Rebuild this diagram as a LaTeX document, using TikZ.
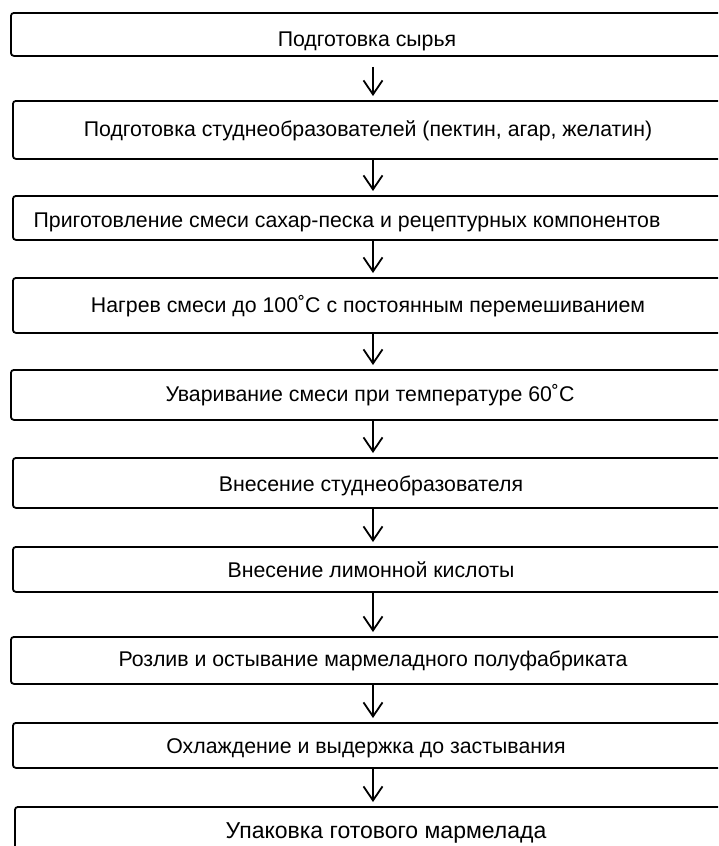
\documentclass[tikz,border=0pt]{standalone}
\usepackage{fontspec}
\setmainfont{Liberation Sans}
\usetikzlibrary{arrows.meta}
\begin{document}
\begin{tikzpicture}[x=1pt,y=-1pt,
  box/.style={draw=black, line width=1.8pt, rounded corners=3pt, inner sep=0pt, anchor=north west},
  lbl/.style={font=\fontsize{21.3}{24}\selectfont, inner sep=0pt, anchor=base},
  flow/.style={line width=1.8pt, -{Straight Barb[length=14pt,width=19pt,line width=1.8pt]}}]
\useasboundingbox (0,0) rectangle (718,846);
\clip (0,0) rectangle (718,846);
\coordinate (ax) at (373,0);
% boxes
\node[box, minimum width=730pt, minimum height=43pt] (b1) at (10,12) {};
\node[box, minimum width=728pt, minimum height=58pt] (b2) at (12,100) {};
\node[box, minimum width=728pt, minimum height=44pt] (b3) at (12,195) {};
\node[box, minimum width=728pt, minimum height=55pt] (b4) at (12,277) {};
\node[box, minimum width=730pt, minimum height=50pt] (b5) at (10,369) {};
\node[box, minimum width=728pt, minimum height=50pt] (b6) at (12,457) {};
\node[box, minimum width=728pt, minimum height=45pt] (b7) at (12,546) {};
\node[box, minimum width=730pt, minimum height=47pt] (b8) at (10,636) {};
\node[box, minimum width=728pt, minimum height=45pt] (b9) at (12,722) {};
\node[box, minimum width=726pt, minimum height=64pt] (b10) at (14,806) {};
% labels
\node[lbl] (t1) at (367,46) {Подготовка сырья};
\node[lbl] (t2) at (368,136) {Подготовка студнеобразователей (пектин, агар, желатин)};
\node[lbl] (t3) at (347,227) {Приготовление смеси сахар-песка и рецептурных компонентов};
\node[lbl] (t4) at (368,312) {Нагрев смеси до 100˚С с постоянным перемешиванием};
\node[lbl] (t5) at (370,401) {Уваривание смеси при температуре 60˚С};
\node[lbl] (t6) at (371,491) {Внесение студнеобразователя};
\node[lbl] (t7) at (371,577) {Внесение лимонной кислоты};
\node[lbl] (t8) at (373,666) {Розлив и остывание мармеладного полуфабриката};
\node[lbl] (t9) at (366,753) {Охлаждение и выдержка до застывания};
\node[lbl, font=\fontsize{23}{26}\selectfont] (t10) at (386,838) {Упаковка готового мармелада};
% arrows
\draw[flow] ([yshift=-10pt]b1.south -| ax) -- ([yshift=4pt]b2.north -| ax);
\draw[flow] (b2.south -| ax) -- ([yshift=4pt]b3.north -| ax);
\draw[flow] (b3.south -| ax) -- ([yshift=4pt]b4.north -| ax);
\draw[flow] (b4.south -| ax) -- ([yshift=4pt]b5.north -| ax);
\draw[flow] (b5.south -| ax) -- ([yshift=4pt]b6.north -| ax);
\draw[flow] (b6.south -| ax) -- ([yshift=4pt]b7.north -| ax);
\draw[flow] (b7.south -| ax) -- ([yshift=4pt]b8.north -| ax);
\draw[flow] (b8.south -| ax) -- ([yshift=4pt]b9.north -| ax);
\draw[flow] (b9.south -| ax) -- ([yshift=4pt]b10.north -| ax);
\end{tikzpicture}
\end{document}
